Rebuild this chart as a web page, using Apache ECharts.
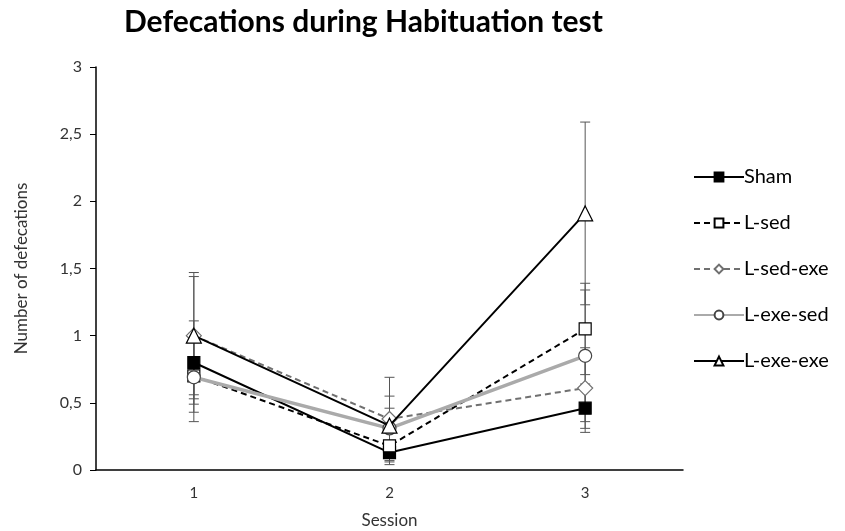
<!DOCTYPE html>
<html><head><meta charset="utf-8">
<script src="https://cdn.jsdelivr.net/npm/echarts@6/dist/echarts.min.js"></script>
<style>html,body{margin:0;padding:0;background:#fff}#c{width:845px;height:531px}</style>
</head><body><div id="c"></div>
<script>
const sessions = ['1', '2', '3'];
const seriesNames = ['Sham', 'L-sed', 'L-sed-exe', 'L-exe-sed', 'L-exe-exe'];
const sham = [0.80, 0.13, 0.46];
const shamErr = [0.31, 0.09, 0.18];
const lSed = [0.70, 0.18, 1.05];
const lSedErr = [0.27, 0.12, 0.34];
const lSedExe = [1.00, 0.38, 0.61];
const lSedExeErr = [0.44, 0.31, 0.30];
const lExeSed = [0.69, 0.31, 0.85];
const lExeSedErr = [0.33, 0.15, 0.49];
const lExeExe = [1.00, 0.33, 1.91];
const lExeExeErr = [0.47, 0.22, 0.68];
const yTicks = [0, 0.5, 1, 1.5, 2, 2.5, 3];

const means = [sham, lSed, lSedExe, lExeSed, lExeExe];
const errs = [shamErr, lSedErr, lSedExeErr, lExeSedErr, lExeExeErr];
const errData = [];
means.forEach((m, s) => m.forEach((v, i) => errData.push([i, v - errs[s][i], v + errs[s][i]])));

const FONT = 'Lato';
const styles = [
  {color: '#000', width: 2, type: 'solid', symbol: 'rect', fill: '#000', border: '#000', size: 12},
  {color: '#000', width: 2, type: [6, 4], symbol: 'rect', fill: '#fff', border: '#000', size: 12},
  {color: '#707070', width: 2, type: [6, 4], symbol: 'diamond', fill: '#fff', border: '#707070', size: 15},
  {color: '#aaaaaa', width: 3.5, type: 'solid', symbol: 'circle', fill: '#fff', border: '#444', size: 13},
  {color: '#000', width: 2, type: 'solid', symbol: 'triangle', fill: '#fff', border: '#000', size: 15}
];

const series = [{
  type: 'custom',
  name: 'err',
  z: 1,
  silent: true,
  data: errData,
  renderItem: function (params, api) {
    const x = api.value(0);
    const lo = api.coord([x, api.value(1)]);
    const hi = api.coord([x, api.value(2)]);
    const hw = 5;
    const st = {stroke: '#555', lineWidth: 1};
    return {type: 'group', children: [
      {type: 'line', shape: {x1: lo[0], y1: lo[1], x2: hi[0], y2: hi[1]}, style: st},
      {type: 'line', shape: {x1: lo[0] - hw, y1: lo[1], x2: lo[0] + hw, y2: lo[1]}, style: st},
      {type: 'line', shape: {x1: hi[0] - hw, y1: hi[1], x2: hi[0] + hw, y2: hi[1]}, style: st}
    ]};
  }
}];
means.forEach((m, s) => {
  const st = styles[s];
  series.push({
    type: 'line',
    name: seriesNames[s],
    data: m,
    z: 2 + s,
    symbol: st.symbol,
    symbolSize: st.size,
    lineStyle: {color: st.color, width: st.width, type: st.type},
    itemStyle: {color: st.fill, borderColor: st.border, borderWidth: 1.2},
    emphasis: {disabled: true}
  });
});

const chart = echarts.init(document.getElementById('c'));
chart.setOption({
  animation: false,
  backgroundColor: '#fff',
  title: {
    text: 'Defecations during Habituation test',
    left: 119, top: 2,
    textStyle: {fontFamily: FONT, fontWeight: 'bold', fontSize: 30, color: '#000'}
  },
  legend: {
    orient: 'vertical',
    left: 688, top: 162,
    itemWidth: 50, itemHeight: 11,
    itemGap: 26,
    data: seriesNames,
    textStyle: {fontFamily: FONT, fontSize: 20, color: '#000', padding: [0, 0, 0, -5]}
  },
  grid: {left: 96, right: 162, top: 67, bottom: 61, containLabel: false, outerBoundsMode: 'none'},
  xAxis: {
    type: 'category',
    data: sessions,
    boundaryGap: true,
    axisLine: {lineStyle: {color: '#000', width: 1.5}},
    axisTick: {show: false},
    axisLabel: {fontFamily: FONT, fontSize: 15, color: '#333', margin: 16},
    name: 'Session',
    nameLocation: 'middle',
    nameGap: 42,
    nameTextStyle: {fontFamily: FONT, fontSize: 17, color: '#333'}
  },
  yAxis: {
    type: 'value',
    min: yTicks[0], max: yTicks[yTicks.length - 1], interval: 0.5,
    axisLine: {show: true, lineStyle: {color: '#000', width: 1.5}},
    axisTick: {show: true, length: 6, lineStyle: {color: '#000'}},
    splitLine: {show: false},
    axisLabel: {fontFamily: FONT, fontSize: 16, color: '#333', margin: 14,
      formatter: v => String(v).replace('.', ',')},
    name: 'Number of defecations',
    nameLocation: 'middle',
    nameGap: 66,
    nameRotate: 90,
    nameTextStyle: {fontFamily: FONT, fontSize: 17, color: '#333'}
  },
  series: series
});
</script></body></html>
